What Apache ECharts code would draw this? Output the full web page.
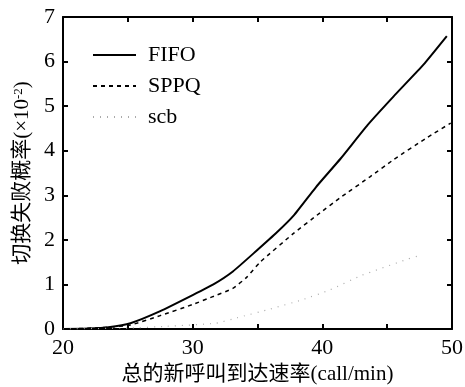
<!DOCTYPE html>
<html>
<head>
<meta charset="utf-8">
<script src="https://cdn.jsdelivr.net/npm/echarts@6/dist/echarts.min.js"></script>
<style>html,body{margin:0;padding:0;background:#fff}#c{width:465px;height:387px}</style>
</head>
<body>
<div id="c"></div>
<script>
var xLabelTicks = [20, 30, 40, 50];
var fifoX = [20, 22, 23.5, 25.2, 27.5, 30.0, 31.6, 33.1, 34.9, 36.5, 37.8, 39.5, 41.4, 43.5, 45.5, 47.8, 49.6];
var fifoY = [0, 0.01, 0.04, 0.13, 0.4, 0.76, 1.0, 1.29, 1.75, 2.17, 2.55, 3.18, 3.82, 4.58, 5.22, 5.93, 6.57];
var sppqX = [20, 23, 25.2, 27.5, 30.0, 31.5, 33.1, 34.2, 35.2, 37.8, 39.8, 41.4, 43.7, 45.5, 48.0, 49.9];
var sppqY = [0, 0.03, 0.09, 0.3, 0.55, 0.72, 0.91, 1.17, 1.5, 2.15, 2.6, 2.95, 3.42, 3.8, 4.28, 4.62];
var scbX = [20, 25, 28, 31.8, 33.4, 36, 38.5, 40.6, 43.0, 46.5, 47.5];
var scbY = [0, 0.02, 0.06, 0.13, 0.25, 0.45, 0.66, 0.88, 1.2, 1.56, 1.65];
var seriesNames = ['FIFO', 'SPPQ', 'scb'];

function pairs(xs, ys) { return xs.map(function (x, i) { return [x, ys[i]]; }); }

var serif = 'Liberation Serif';
var cjk = 'Liberation Serif, Noto Sans CJK SC, sans-serif';
var chart = echarts.init(document.getElementById('c'));
function axisCommon(o) {
  o.axisLine = { show: true, onZero: false, lineStyle: { color: '#000', width: 2 } };
  o.axisTick = { show: true, inside: true, length: 5, lineStyle: { color: '#000', width: 2 } };
  o.splitLine = { show: false };
  return o;
}
chart.setOption({
  animation: false,
  backgroundColor: '#fff',
  grid: { left: 63, right: 13, top: 17, bottom: 58, outerBoundsMode: 'none', containLabel: false },
  legend: {
    show: true, padding: 0,
    orient: 'vertical', left: 92, top: 44, itemWidth: 43, itemHeight: 14, itemGap: 9,
    itemStyle: { opacity: 0 },
    textStyle: { fontFamily: serif, fontSize: 22, color: '#000', padding: [0, 0, 0, 7] },
    data: seriesNames
  },
  xAxis: [
    axisCommon({
      type: 'value', min: 20, max: 50, interval: 5, position: 'bottom',
      name: '总的新呼叫到达速率(call/min)', nameLocation: 'middle', nameGap: 33,
      nameTextStyle: { fontFamily: cjk, fontSize: 21, color: '#000' },
      axisLabel: { fontFamily: serif, fontSize: 22, color: '#000', margin: 8,
        formatter: function (v) { return xLabelTicks.indexOf(v) >= 0 ? String(v) : ''; } }
    }),
    axisCommon({ type: 'value', min: 20, max: 50, interval: 5, position: 'top', axisLabel: { show: false } })
  ],
  yAxis: [
    axisCommon({
      type: 'value', min: 0, max: 7, interval: 1, position: 'left',
      name: '切换失败概率(×10{sup|-2})', nameLocation: 'middle', nameGap: 29, nameRotate: 90,
      nameTextStyle: { fontFamily: cjk, fontSize: 21, color: '#000',
        rich: { sup: { fontFamily: serif, fontSize: 13, color: '#000', padding: [0, 0, 9, 0] } } },
      axisLabel: { fontFamily: serif, fontSize: 22, color: '#000', margin: 8 }
    }),
    axisCommon({ type: 'value', min: 0, max: 7, interval: 1, position: 'right', axisLabel: { show: false } })
  ],
  series: [
    { name: seriesNames[0], type: 'line', data: pairs(fifoX, fifoY), symbol: 'none', smooth: 0.15,
      itemStyle: { color: '#000' }, lineStyle: { color: '#000', width: 2 } },
    { name: seriesNames[1], type: 'line', data: pairs(sppqX, sppqY), symbol: 'none', smooth: 0.15,
      itemStyle: { color: '#000' }, lineStyle: { color: '#000', width: 1.5, type: [4, 4] } },
    { name: seriesNames[2], type: 'line', data: pairs(scbX, scbY), symbol: 'none', smooth: 0.15,
      itemStyle: { color: '#888' }, lineStyle: { color: '#aaa', width: 1.2, type: [1, 6] } }
  ]
});
</script>
</body>
</html>
